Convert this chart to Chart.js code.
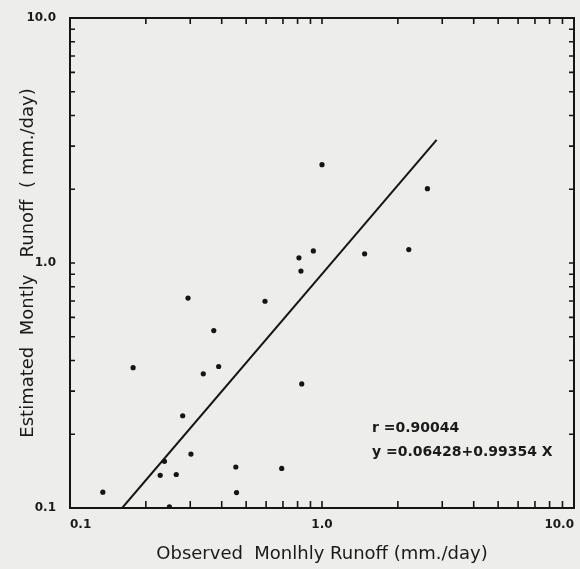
<!DOCTYPE html>
<html>
<head>
<meta charset="utf-8">
<script src="https://cdn.jsdelivr.net/npm/chart.js@4"></script>
<style>
  html, body { margin: 0; padding: 0; background: #ededeb; }
  #wrap { width: 580px; height: 569px; }
</style>
</head>
<body>
<div id="wrap"><canvas id="grafica"></canvas></div>
<script>
// observed vs estimated monthly runoff (mm./day)
var observed = [0.924, 0.810, 0.825, 0.294, 0.594, 0.372, 0.178, 0.338, 0.389, 0.831, 0.280, 0.237,
                0.302, 0.228, 0.264, 0.455, 0.692, 1.00, 2.62, 1.476, 2.21, 0.135, 0.458, 0.248];
var estimated = [1.12, 1.05, 0.927, 0.719, 0.698, 0.530, 0.374, 0.353, 0.378, 0.321, 0.238, 0.155,
                 0.166, 0.136, 0.137, 0.147, 0.145, 2.52, 2.01, 1.09, 1.135, 0.116, 0.1156, 0.101];
// fitted line end points
var fitX = [0.161, 2.85];
var fitY = [0.1, 3.18];
var tickLabels = { 0.1: '0.1', 1: '1.0', 10: '10.0' };
var rText = 'r =0.90044';
var eqText = 'y =0.06428+0.99354 X';

var puntos = observed.map(function (v, i) { return { x: v, y: estimated[i] }; });
var recta = fitX.map(function (v, i) { return { x: v, y: fitY[i] }; });

function etiqueta(value) {
    var k = Math.round(value * 1000) / 1000;
    return tickLabels[k] !== undefined ? tickLabels[k] : '';
}

// frame with inward log ticks on all four sides, plus the fit text
var marco = {
    id: 'marco',
    afterDraw: function (chart) {
        var ctx = chart.ctx, a = chart.chartArea;
        var xs = chart.scales.x, ys = chart.scales.y;
        ctx.save();
        ctx.strokeStyle = '#151515';
        ctx.lineWidth = 2;
        ctx.strokeRect(a.left, a.top, a.right - a.left, a.bottom - a.top);
        ctx.lineWidth = 1.6;
        ctx.beginPath();
        [0.1, 1].forEach(function (d) {
            for (var m = 1; m <= 9; m++) {
                var v = d * m;
                if (m === 1 && d === 0.1) continue;
                var px = xs.getPixelForValue(v);
                var py = ys.getPixelForValue(v);
                ctx.moveTo(px, a.bottom); ctx.lineTo(px, a.bottom - 7);
                ctx.moveTo(px, a.top); ctx.lineTo(px, a.top + 6);
                ctx.moveTo(a.left, py); ctx.lineTo(a.left + 5, py);
                ctx.moveTo(a.right, py); ctx.lineTo(a.right - 5, py);
            }
        });
        ctx.stroke();
        ctx.fillStyle = '#1a1a1a';
        ctx.font = 'bold 14px "DejaVu Sans"';
        ctx.textBaseline = 'middle';
        ctx.fillText(rText, a.left + 302, a.top + 410);
        ctx.fillText(eqText, a.left + 302, a.top + 434);
        ctx.restore();
    }
};

new Chart(document.getElementById('grafica').getContext('2d'), {
    data: {
        datasets: [{
            type: 'scatter',
            data: puntos,
            backgroundColor: '#151515',
            borderWidth: 0,
            pointRadius: 2.6
        }, {
            type: 'line',
            data: recta,
            borderColor: '#151515',
            borderWidth: 2,
            pointRadius: 0,
            fill: false
        }]
    },
    options: {
        responsive: true,
        maintainAspectRatio: false,
        animation: false,
        layout: { padding: { top: 18, right: 6, left: 8, bottom: 0 } },
        plugins: { legend: { display: false }, tooltip: { enabled: false } },
        scales: {
            x: {
                type: 'logarithmic',
                min: 0.1,
                max: 10,
                grid: { display: false },
                border: { display: false },
                afterFit: function (s) { s.height = 61; s.paddingLeft = 0; s.paddingRight = 0; },
                ticks: {
                    autoSkip: false,
                    maxRotation: 0,
                    align: 'inner',
                    padding: 2,
                    color: '#1a1a1a',
                    font: { family: 'DejaVu Sans', size: 12, weight: 'bold' },
                    callback: etiqueta
                },
                title: {
                    display: true,
                    text: 'Observed  Monlhly Runoff (mm./day)',
                    color: '#1a1a1a',
                    font: { family: 'DejaVu Sans', size: 18 },
                    padding: { top: 0, bottom: 4 }
                }
            },
            y: {
                type: 'logarithmic',
                min: 0.1,
                max: 10,
                grid: { display: false },
                border: { display: false },
                afterFit: function (s) { s.width = 62; s.paddingTop = 0; s.paddingBottom = 0; },
                ticks: {
                    autoSkip: false,
                    padding: 6,
                    color: '#1a1a1a',
                    font: { family: 'DejaVu Sans', size: 12, weight: 'bold' },
                    callback: etiqueta
                },
                title: {
                    display: true,
                    text: 'Estimated  Montly   Runoff  ( mm./day)',
                    color: '#1a1a1a',
                    font: { family: 'DejaVu Sans', size: 18 },
                    padding: { top: 10, bottom: 0 }
                }
            }
        }
    },
    plugins: [marco]
});
</script>
</body>
</html>
